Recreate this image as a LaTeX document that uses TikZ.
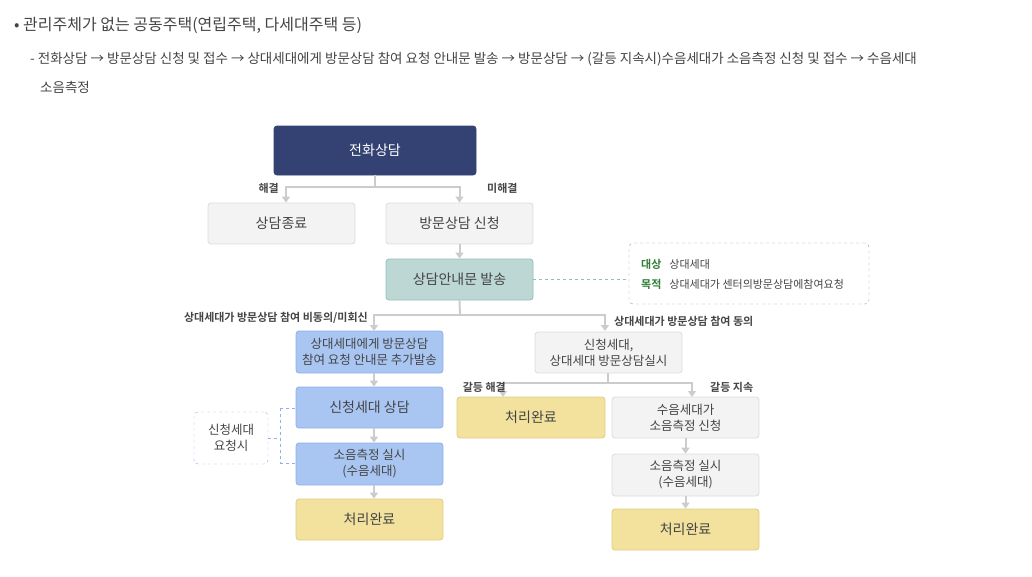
\documentclass[tikz,border=0pt]{standalone}
\usepackage{fontspec}
\setmainfont{Noto Sans CJK KR}
\newfontfamily\kb{Noto Sans CJK KR Bold}
\usetikzlibrary{arrows.meta}
\definecolor{navy}{HTML}{334272}
\definecolor{gbox}{HTML}{F3F3F3}
\definecolor{gline}{HTML}{DCDCDC}
\definecolor{teal}{HTML}{BDD8D4}
\definecolor{teall}{HTML}{8DC2B8}
\definecolor{bbox}{HTML}{A9C6F3}
\definecolor{bline}{HTML}{8FB0E8}
\definecolor{ybox}{HTML}{F2E29E}
\definecolor{yline}{HTML}{E0CD82}
\definecolor{arr}{HTML}{CCCCCC}
\definecolor{txt}{HTML}{444444}
\definecolor{grn}{HTML}{2E7D32}
\tikzset{
 x=1pt,y=-1pt,
 bx/.style={rounded corners=3pt,line width=0.8pt,align=center,text=txt,font=\fontsize{14}{18}\selectfont},
 gb/.style={bx,fill=gbox,draw=gline},
 tb/.style={bx,fill=teal,draw=teall},
 blb/.style={bx,fill=bbox,draw=bline},
 yb/.style={bx,fill=ybox,draw=yline},
 ar/.style={draw=arr,line width=2pt,-{Triangle[length=6pt,width=8pt]}},
 ln/.style={draw=arr,line width=2pt},
 lab/.style={font=\kb\fontsize{11}{13}\selectfont,text=txt,inner sep=0pt},
}
\newcommand{\bxat}[6]{\node[#1,minimum width=#4-#2,minimum height=#5-#3,inner sep=0pt] (#6) at ({(#2+#4)/2},{(#3+#5)/2})}
\begin{document}
\begin{tikzpicture}
\useasboundingbox (0,0) rectangle (1032,576);
\node[anchor=west,text=txt,font=\fontsize{16}{20}\selectfont,inner sep=0pt] (h1) at (14,25) {• 관리주체가 없는 공동주택(연립주택, 다세대주택 등)};
\node[anchor=west,text=txt,font=\fontsize{13.5}{18}\selectfont,inner sep=0pt] (h2) at (30,59) {- 전화상담 → 방문상담 신청 및 접수 → 상대세대에게 방문상담 참여 요청 안내문 발송 → 방문상담 → (갈등 지속시)수음세대가 소음측정 신청 및 접수 → 수음세대};
\node[anchor=west,text=txt,font=\fontsize{13.5}{18}\selectfont,inner sep=0pt] (h3) at (40,87) {소음측정};

\bxat{bx,fill=navy,draw=navy,text=white}{274}{126}{476}{175}{a} {전화상담};
\bxat{gb}{208}{203}{355}{244}{b} {상담종료};
\bxat{gb}{386}{203}{533}{244}{c} {방문상담 신청};
\bxat{tb}{386}{259}{533}{300}{d} {상담안내문 발송};
\node[draw=gray!80,dashed,rounded corners=4pt,minimum width=240,minimum height=61,inner sep=0pt] (e) at (749,273.5) {};
\node[anchor=west,inner sep=0pt,font=\fontsize{11}{13}\selectfont,text=txt] (e1) at (641,264) {{\kb\color{grn}대상}\hspace{8pt}상대세대};
\node[anchor=west,inner sep=0pt,font=\fontsize{11}{13}\selectfont,text=txt] (e2) at (641,284) {{\kb\color{grn}목적}\hspace{8pt}상대세대가 센터의방문상담에참여요청};
\draw[teall,dashed,line width=0.8pt] (d.east) -- (e.west |- d.east);

\bxat{blb,font=\fontsize{12.5}{16}\selectfont}{296}{331}{443}{373}{f} {상대세대에게 방문상담\\참여 요청 안내문 추가발송};
\bxat{blb}{296}{387}{443}{428}{g} {신청세대 상담};
\bxat{blb,font=\fontsize{12.5}{16}\selectfont}{296}{443}{443}{485}{h} {소음측정 실시\\(수음세대)};
\bxat{yb}{296}{499}{443}{540}{i} {처리완료};
\node[draw=bline,dashed,rounded corners=4pt,minimum width=74,minimum height=52,inner sep=0pt,align=center,text=txt,font=\fontsize{12.5}{16}\selectfont] (j) at (231,438) {신청세대\\요청시};
\coordinate (jb) at (280,438);
\draw[bline,dashed,line width=0.8pt] (j.east) -- (jb) (280,408) -- (280,463) (280,408) -- (g.west |- 0,408) (280,463) -- (h.west |- 0,463);

\bxat{gb,font=\fontsize{12.5}{16}\selectfont}{535}{332}{682}{373}{k} {신청세대,\\상대세대 방문상담실시};
\bxat{yb}{457}{397}{605}{438}{l} {처리완료};
\bxat{gb,font=\fontsize{12.5}{16}\selectfont}{612}{397}{759}{438}{m} {수음세대가\\소음측정 신청};
\bxat{gb,font=\fontsize{12.5}{16}\selectfont}{612}{454}{759}{496}{n} {소음측정 실시\\(수음세대)};
\bxat{yb}{612}{509}{759}{550}{o} {처리완료};

% arrows
\draw[ln] (a.south) -- (375,187);
\draw[ar] (375,187) -| (b.north -| 286,0);
\draw[ar] (375,187) -| (c.north);
\node[lab,anchor=east] (l1) at (279,188) {해결};
\node[lab,anchor=west] (l2) at (487,188) {미해결};
\draw[ar] (c.south) -- (d.north);
\draw[ln] (d.south) -- (460,315);
\draw[ar] (460,315) -| (374,331);
\draw[ar] (460,315) -| (605,331);
\node[lab,anchor=east] (l3) at (368,318) {상대세대가 방문상담 참여 비동의/미회신};
\node[lab,anchor=west] (l4) at (614,321) {상대세대가 방문상담 참여 동의};
\draw[ar] (374,373) -- (g.north -| 374,0);
\draw[ar] (374,428) -- (h.north -| 374,0);
\draw[ar] (374,485) -- (i.north -| 374,0);
\draw[ln] (k.south -| 608,0) -- (608,383);
\draw[ar] (608,383) -| (503,397);
\draw[ar] (608,383) -| (692,397);
\node[lab,anchor=east] (l5) at (506,387) {갈등 해결};
\node[lab,anchor=west] (l6) at (710,387) {갈등 지속};
\draw[ar] (m.south) -- (n.north);
\draw[ar] (n.south) -- (o.north);
\end{tikzpicture}
\end{document}
